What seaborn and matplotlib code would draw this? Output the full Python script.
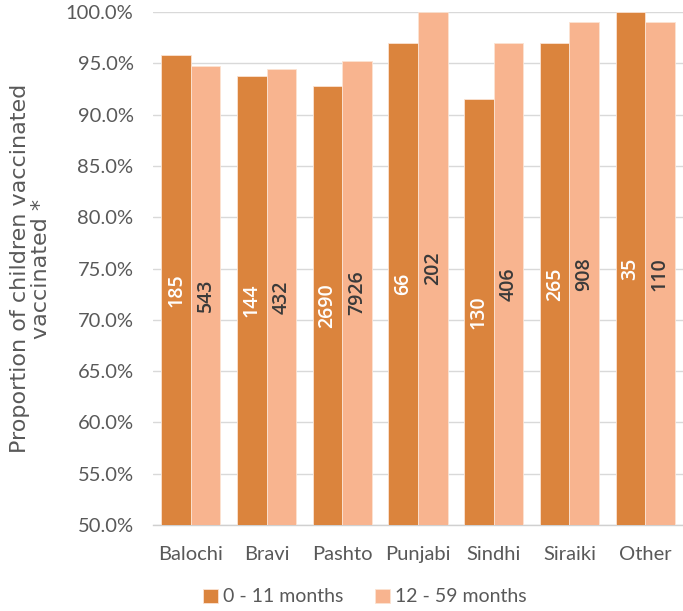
import matplotlib
matplotlib.use("Agg")
import matplotlib.pyplot as plt
import seaborn as sns
import pandas as pd
from matplotlib.ticker import FuncFormatter, MultipleLocator

# Vaccination coverage by language group and age band
languages = ["Balochi", "Bravi", "Pashto", "Punjabi", "Sindhi", "Siraiki", "Other"]
age_groups = ["0 - 11 months", "12 - 59 months"]
pct_infant = [95.8, 93.8, 92.8, 97.0, 91.5, 97.0, 100.0]
pct_child = [94.7, 94.4, 95.2, 100.0, 97.0, 99.0, 99.0]
n_infant = [185, 144, 2690, 66, 130, 265, 35]
n_child = [543, 432, 7926, 202, 406, 908, 110]

df = pd.DataFrame({
    "language": languages * 2,
    "age": [age_groups[0]] * len(languages) + [age_groups[1]] * len(languages),
    "pct": pct_infant + pct_child,
    "n": n_infant + n_child,
})

sns.set_theme(style="white")
plt.rcParams["font.family"] = ["Lato", "DejaVu Sans"]

dark = "#DB843D"
light = "#F8B48F"
grey_text = "#595959"

fig = plt.figure(figsize=(6.83, 6.11), dpi=100)
ax = fig.add_axes([153 / 683, 1 - 525 / 611, 530 / 683, (525 - 12) / 611])

sns.barplot(data=df, x="language", y="pct", hue="age", order=languages,
            hue_order=age_groups, palette=[dark, light], saturation=1, width=0.78,
            edgecolor="#FBE3D3", linewidth=0.6, ax=ax, zorder=3)

ax.set_ylim(50, 100)
ax.set_xlim(-0.5, len(languages) - 0.5)
ax.yaxis.set_major_locator(MultipleLocator(5))
ax.yaxis.set_major_formatter(FuncFormatter(lambda v, _: f"{v:.1f}%"))
ax.grid(axis="y", color="#D9D9D9", linewidth=1.0, zorder=0)
ax.set_axisbelow(True)
for side in ["left", "right", "top"]:
    ax.spines[side].set_visible(False)
ax.spines["bottom"].set_color("#D0D0D0")
ax.spines["bottom"].set_linewidth(1.0)
ax.tick_params(axis="both", length=0, labelsize=14.5, colors=grey_text)
ax.tick_params(axis="y", pad=14)
ax.tick_params(axis="x", pad=15)
ax.set_xlabel("")
ax.set_ylabel("Proportion of children vaccinated\nvaccinated *", fontsize=16,
              color=grey_text, family=["DejaVu Sans"], labelpad=11,
              linespacing=1.05)

# Sample sizes written vertically in the middle of each bar
for container, counts, col in zip(ax.containers, [n_infant, n_child], ["white", "#3A3A3A"]):
    for bar, n in zip(container, counts):
        x = bar.get_x() + bar.get_width() / 2
        y = (50 + bar.get_y() + bar.get_height()) / 2
        ax.text(x, y, str(n), rotation=90, ha="center", va="center", color=col,
                fontsize=14, fontweight="semibold", family=["Open Sans", "DejaVu Sans"],
                zorder=5)

leg = fig.legend(*ax.get_legend_handles_labels(), loc="center",
                 bbox_to_anchor=(365 / 683, 1 - 597 / 611), ncol=2, frameon=False,
                 fontsize=14, handlelength=0.75, handleheight=0.75, handletextpad=0.3,
                 columnspacing=1.6)
ax.get_legend().remove()
for t in leg.get_texts():
    t.set_color(grey_text)

fig.savefig("out.png", dpi=100)
